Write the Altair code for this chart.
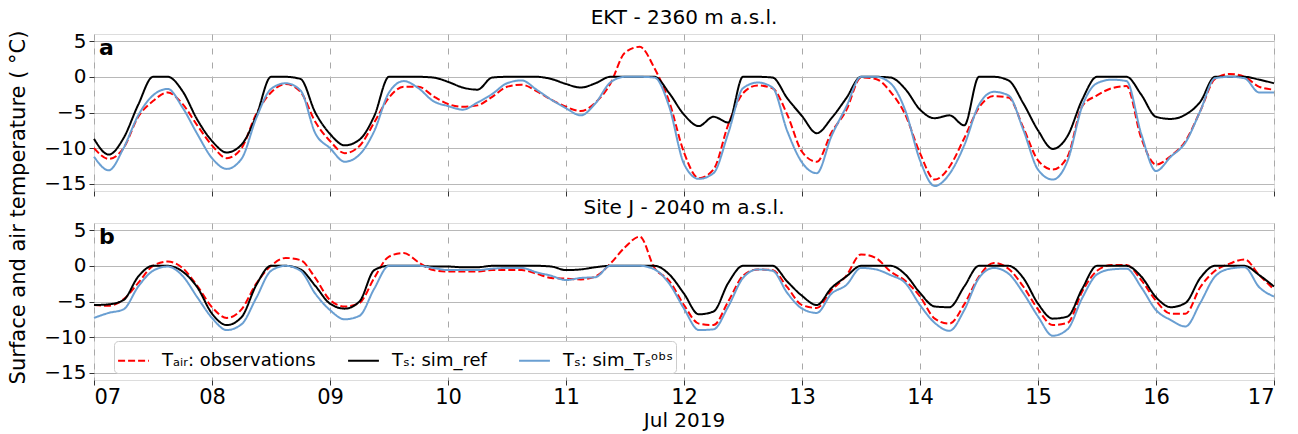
import altair as alt
import pandas as pd

# time axis: hours since 2019-07-07 00:00, every 3 hours
hours = list(range(0, 241, 3))
day_ticks = list(range(0, 241, 24))

series_names = ["Tₐᵢᵣ: observations", "Tₛ: sim_ref", "Tₛ: sim_Tₛᵒᵇˢ"]
series_colors = ["#ff0000", "#000000", "#6a9fd2"]

# EKT - 2360 m a.s.l.
ekt_obs = [
    -10.0, -11.5, -10.0, -5.6, -3.4, -2.2, -3.8, -6.8,
    -9.6, -11.4, -10.0, -5.2, -2.2, -1.0, -2.1, -6.3,
    -9.0, -10.7, -9.7, -6.4, -2.9, -1.4, -1.4, -2.7,
    -3.8, -4.2, -4.0, -2.8, -1.4, -1.1, -2.0, -3.2,
    -4.2, -4.8, -3.6, -1.0, 3.4, 4.2, 1.2, -3.5,
    -10.6, -14.2, -13.0, -6.7, -2.3, -1.2, -1.6, -5.3,
    -10.5, -11.9, -7.8, -4.7, -0.1, -0.3, -2.1, -5.3,
    -10.7, -14.4, -12.6, -8.6, -4.3, -2.7, -2.9, -7.1,
    -11.7, -13.0, -11.2, -4.1, -2.6, -1.6, -1.3, -8.6,
    -12.3, -11.1, -9.0, -4.8, -0.3, 0.4, 0.0, -1.4,
    -1.8,
]
ekt_ref = [
    -8.7, -10.9, -8.6, -3.9, 0.0, 0.0, -2.0, -6.0,
    -9.0, -10.6, -9.5, -5.5, 0.0, 0.0, -0.3, -5.0,
    -8.0, -9.6, -8.8, -5.5, 0.0, 0.0, 0.0, -0.1,
    -0.7, -1.5, -1.8, -0.1, 0.0, 0.0, 0.0, -0.3,
    -1.0, -1.5, -0.9, 0.0, 0.0, 0.0, 0.0, -2.3,
    -5.3, -6.9, -5.6, -6.4, 0.0, 0.0, -0.1, -3.0,
    -5.5, -7.9, -5.8, -3.0, 0.0, 0.0, -0.1, -1.7,
    -4.6, -5.8, -5.4, -6.8, 0.0, 0.0, -0.5, -3.7,
    -7.5, -10.1, -8.3, -3.2, 0.0, 0.0, 0.0, -2.5,
    -5.6, -5.9, -5.3, -3.5, 0.0, 0.0, 0.0, -0.4,
    -0.9,
]
ekt_tsobs = [
    -11.2, -13.1, -10.0, -5.4, -2.6, -1.7, -4.3, -8.0,
    -11.4, -12.9, -11.5, -5.8, -1.7, -0.9, -1.9, -7.9,
    -10.0, -11.9, -10.9, -7.6, -2.2, -0.6, -1.6, -3.4,
    -4.1, -4.6, -3.6, -2.4, -0.9, -0.5, -1.8, -3.2,
    -4.4, -5.4, -3.7, -0.8, 0.0, 0.0, -0.1, -4.2,
    -12.2, -14.3, -13.5, -7.9, -1.6, -0.8, -1.5, -7.6,
    -12.0, -13.5, -8.3, -4.2, 0.0, 0.0, -0.9, -4.7,
    -11.7, -15.3, -13.6, -9.6, -3.9, -2.1, -2.6, -7.4,
    -13.0, -14.4, -11.8, -4.1, -0.9, -0.4, -0.6, -8.0,
    -13.2, -11.2, -9.2, -4.8, -0.2, 0.0, -0.2, -2.2,
    -2.2,
]

# Site J - 2040 m a.s.l.
sitej_obs = [
    -5.5, -5.6, -4.7, -2.4, 0.0, 0.6, -0.3, -2.8,
    -5.8, -7.3, -6.1, -2.5, 0.0, 1.1, 0.8, -1.7,
    -4.8, -5.7, -5.2, -1.7, 1.3, 1.8, 0.5, -0.6,
    -0.8, -0.8, -0.8, -0.6, -0.6, -0.6, -1.1, -1.7,
    -1.8, -1.9, -1.5, 0.3, 2.6, 4.1, -0.3, -2.1,
    -5.5, -8.1, -8.3, -5.0, -1.4, -0.5, -0.6, -3.0,
    -5.5, -5.9, -3.4, -1.4, 1.6, 1.1, -0.8, -2.1,
    -4.3, -7.4, -8.1, -5.4, -1.5, 0.4, -0.4, -2.9,
    -6.1, -8.3, -8.0, -3.6, -0.7, 0.1, 0.1, -2.0,
    -4.9, -6.7, -6.7, -3.0, -0.7, 0.3, 0.9, -1.3,
    -3.3,
]
sitej_ref = [
    -5.5, -5.4, -4.8, -1.5, 0.0, 0.0, -0.8, -3.0,
    -6.7, -8.3, -7.2, -2.7, 0.0, 0.0, -0.5, -2.8,
    -5.3, -6.0, -5.0, -0.6, 0.0, 0.0, 0.0, -0.1,
    -0.1, -0.2, -0.2, 0.0, 0.0, 0.0, 0.0, -0.1,
    -0.6, -0.5, -0.2, 0.0, 0.0, 0.0, 0.0, -1.2,
    -3.9, -6.8, -6.4, -2.4, 0.0, 0.0, 0.0, -2.2,
    -4.2, -5.5, -3.1, -1.5, 0.0, 0.0, 0.0, -1.2,
    -3.8, -5.7, -5.8, -2.9, 0.0, 0.0, 0.0, -1.7,
    -5.3, -7.4, -7.1, -3.2, 0.0, 0.0, 0.0, -1.5,
    -4.4, -5.8, -5.2, -1.7, 0.0, 0.0, 0.0, -1.3,
    -2.9,
]
sitej_tsobs = [
    -7.3, -6.6, -6.1, -2.9, -0.7, -0.1, -1.4, -4.4,
    -7.3, -9.0, -8.2, -4.5, -0.7, 0.0, -0.7, -3.9,
    -6.2, -7.5, -7.0, -3.2, 0.0, 0.0, 0.0, -0.3,
    -0.6, -0.6, -0.6, -0.4, -0.3, -0.3, -0.9, -1.4,
    -2.0, -1.7, -1.6, 0.0, 0.0, 0.0, -0.5, -2.5,
    -6.0, -9.0, -8.9, -5.7, -1.7, -0.5, -0.7, -3.8,
    -6.0, -6.6, -3.9, -2.7, -0.3, -0.5, -1.3, -2.4,
    -5.5, -8.0, -9.1, -6.2, -1.7, -0.3, -1.1, -3.8,
    -7.1, -9.8, -8.9, -4.5, -1.2, -0.5, -0.4, -3.0,
    -6.2, -7.6, -8.5, -5.2, -1.5, -0.4, -0.2, -3.0,
    -4.3,
]


def site_frame(obs, ref, tsobs):
    rows = []
    for name, vals in zip(series_names, [obs, ref, tsobs]):
        for h, v in zip(hours, vals):
            rows.append({"hour": h, "value": v, "series": name})
    return pd.DataFrame(rows)


FONT = "DejaVu Sans"
GRID = "#b8b8b8"


def panel(df, title, letter, show_bottom, show_ytitle, show_legend):
    if show_legend:
        leg = alt.Legend(
            title=None, orient="none", legendX=20, legendY=118,
            direction="horizontal", symbolType="stroke", symbolSize=950,
            symbolStrokeWidth=2, labelFontSize=18, labelFont=FONT,
            labelColor="#000000", fillColor="white", strokeColor="#cccccc",
            cornerRadius=4, padding=3, columnPadding=28, labelOffset=12,
            labelLimit=400,
        )
    else:
        leg = None

    x_axis = alt.Axis(
        values=day_ticks, title="Jul 2019" if show_bottom else None,
        labels=show_bottom,
        labelExpr="format(7 + datum.value / 24, '02d')",
        labelFontSize=21, labelFont=FONT, labelColor="#000000",
        titleFontSize=20, titleFont=FONT, titleFontWeight="normal",
        titleColor="#000000", titlePadding=3, labelPadding=1,
        tickSize=5, tickColor="#333333", domain=False,
        grid=True, gridDash=[6, 8], gridColor="#a8a8a8", gridWidth=1,
    )
    y_kwargs = dict(
        values=[-15, -10, -5, 0, 5], labelFontSize=20, labelFont=FONT,
        labelColor="#000000", tickSize=5, tickColor="#333333", domain=False,
        grid=True, gridColor=GRID, gridWidth=1.2, labelPadding=3,
    )
    if show_ytitle:
        y_axis = alt.Axis(
            title="Surface and air temperature ( °C)", titleFontSize=21,
            titleFont=FONT, titleFontWeight="normal", titleColor="#000000",
            titleX=-66, titleY=173, titleAngle=-90, titleAlign="center",
            titleBaseline="bottom", **y_kwargs,
        )
    else:
        y_axis = alt.Axis(title=None, **y_kwargs)

    lines = alt.Chart(df).mark_line(strokeWidth=2, interpolate="monotone").encode(
        x=alt.X("hour:Q", scale=alt.Scale(domain=[0, 240], nice=False, zero=False), axis=x_axis),
        y=alt.Y("value:Q", scale=alt.Scale(domain=[-16, 6], nice=False), axis=y_axis),
        color=alt.Color("series:N", scale=alt.Scale(domain=series_names, range=series_colors), legend=leg),
        strokeDash=alt.StrokeDash(
            "series:N",
            scale=alt.Scale(domain=series_names, range=[[7, 3], [1, 0], [1, 0]]),
            legend=leg,
        ),
    )
    label = alt.Chart(pd.DataFrame({"label": [letter]})).mark_text(
        align="left", baseline="alphabetic", fontSize=22, fontWeight="bold",
        font=FONT, color="#000000",
    ).encode(x=alt.value(5), y=alt.value(21), text="label:N")

    return alt.layer(lines, label).properties(
        width=1180, height=157,
        title=alt.TitleParams(title, fontSize=20, font=FONT, fontWeight="normal",
                              color="#000000", offset=2, anchor="middle"),
    )


top = panel(site_frame(ekt_obs, ekt_ref, ekt_tsobs), "EKT - 2360 m a.s.l.", "a",
            show_bottom=False, show_ytitle=True, show_legend=False)
bottom = panel(site_frame(sitej_obs, sitej_ref, sitej_tsobs), "Site J - 2040 m a.s.l.", "b",
               show_bottom=True, show_ytitle=False, show_legend=True)

chart = alt.vconcat(top, bottom, spacing=32, bounds="flush").resolve_scale(
    color="independent", strokeDash="independent"
).resolve_legend(
    color="independent", strokeDash="independent"
).properties(
    padding={"left": 6, "top": 7, "right": 5, "bottom": 0}
).configure_view(
    stroke="#333333", strokeWidth=1.2
).configure(font=FONT, background="white")

chart.save("out.html", embed_options={"renderer": "svg", "actions": False})
